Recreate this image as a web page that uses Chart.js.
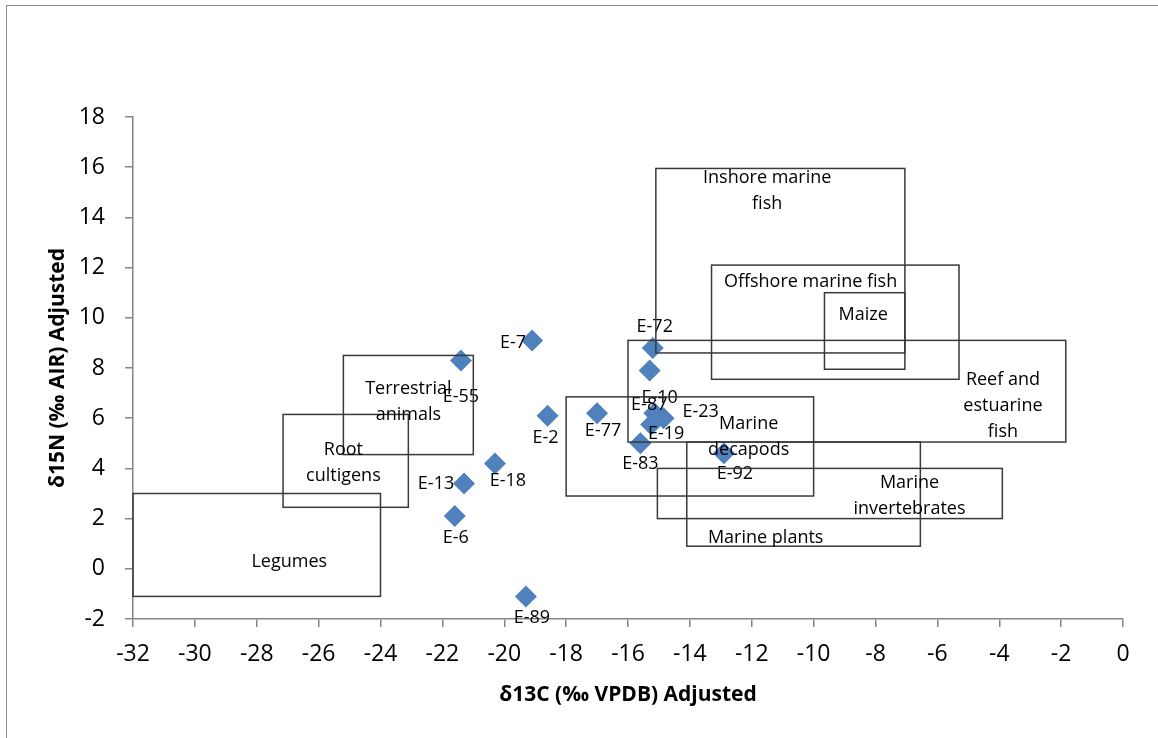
<!DOCTYPE html>
<html>
<head>
<meta charset="utf-8">
<script src="https://cdn.jsdelivr.net/npm/chart.js@4.4.1/dist/chart.umd.min.js"></script>
<style>
  body { margin: 0; background: #fff; }
  #frame { position: absolute; left: 6px; top: 5px; width: 1200px; height: 800px;
           border-left: 1.5px solid #8c8c8c; border-top: 1.5px solid #8c8c8c; }
  #wrap { position: absolute; left: 0; top: 0; width: 1158px; height: 738px; }
</style>
</head>
<body>
<div id="frame"></div>
<div id="wrap"><canvas id="isoChart" width="1158" height="738"></canvas></div>
<script>
// sample values
const sampleNames = ['E-7', 'E-55', 'E-2', 'E-77', 'E-18', 'E-13', 'E-6', 'E-89',
                     'E-72', 'E-10', 'E-87', 'E-23', 'E-19', 'E-83', 'E-92'];
const d13C = [-19.1, -21.4, -18.6, -17.0, -20.3, -21.3, -21.6, -19.3,
              -15.2, -15.3, -15.15, -14.85, -15.25, -15.6, -12.9];
const d15N = [9.1, 8.3, 6.1, 6.2, 4.2, 3.4, 2.1, -1.1,
              8.8, 7.9, 6.2, 6.0, 5.75, 5.0, 4.6];

// reference food groups (ranges)
const groupNames = [['Legumes'], ['Root', 'cultigens'], ['Terrestrial', 'animals'],
                    ['Marine', 'decapods'], ['Reef and', 'estuarine', 'fish'],
                    ['Inshore marine', 'fish'], ['Offshore marine fish'], ['Maize'],
                    ['Marine', 'invertebrates'], ['Marine plants']];
const groupXMin = [-32, -27.15, -25.2, -18.0, -16.0, -15.1, -13.3, -9.65, -15.05, -14.1];
const groupXMax = [-24, -23.1, -21.0, -10.0, -1.85, -7.05, -5.3, -7.05, -3.9, -6.55];
const groupYMin = [-1.1, 2.45, 4.55, 2.9, 5.05, 8.6, 7.55, 7.95, 2.0, 0.9];
const groupYMax = [3.0, 6.15, 8.5, 6.85, 9.1, 15.95, 12.1, 11.0, 4.0, 5.05];
// where the group names sit (data units)
const groupLabelX = [-26.95, -25.2, -23.1, -12.1, -3.88, -11.5, -10.1, -8.4, -6.9, -11.55];
const groupLabelY = [0.28, 4.23, 6.64, 5.26, 6.5, 15.04, 11.45, 10.12, 2.89, 1.24];

// point label offsets from the marker, px
const labelOffsets = [[-19, 2], [0, 36], [-2, 22], [6, 18], [13, 17], [-28, 0], [1, 22], [6, 21],
                      [2, -21], [10, 27], [-5, -8], [37, -6], [15, 9], [0, 21], [11, 21]];

const FONT = '"Open Sans", "Noto Sans", sans-serif';

const points = sampleNames.map(function (n, i) {
    return { x: d13C[i], y: d15N[i] };
});

const overlayPlugin = {
    id: 'overlay',
    afterDatasetsDraw: function (chart) {
        const ctx = chart.ctx;
        const meta = chart.getDatasetMeta(0);
        ctx.save();
        ctx.font = '18px ' + FONT;
        ctx.fillStyle = '#000';
        ctx.textAlign = 'center';
        ctx.textBaseline = 'middle';
        meta.data.forEach(function (pt, i) {
            const off = labelOffsets[i];
            ctx.fillText(sampleNames[i], pt.x + off[0], pt.y + off[1]);
        });
        ctx.restore();
    },
    afterDraw: function (chart) {
        const ctx = chart.ctx;
        const xs = chart.scales.x;
        const ys = chart.scales.y;
        ctx.save();
        ctx.strokeStyle = '#3a3a3a';
        ctx.lineWidth = 1.5;
        for (let i = 0; i < groupNames.length; i++) {
            const x1 = xs.getPixelForValue(groupXMin[i]);
            const x2 = xs.getPixelForValue(groupXMax[i]);
            const y1 = ys.getPixelForValue(groupYMax[i]);
            const y2 = ys.getPixelForValue(groupYMin[i]);
            ctx.strokeRect(x1, y1, x2 - x1, y2 - y1);
        }
        ctx.font = '18px ' + FONT;
        ctx.fillStyle = '#000';
        ctx.textAlign = 'center';
        ctx.textBaseline = 'middle';
        for (let i = 0; i < groupNames.length; i++) {
            const lines = groupNames[i];
            const cx = xs.getPixelForValue(groupLabelX[i]);
            const cy = ys.getPixelForValue(groupLabelY[i]);
            const lh = 26;
            lines.forEach(function (t, k) {
                ctx.fillText(t, cx, cy + (k - (lines.length - 1) / 2) * lh);
            });
        }
        ctx.restore();
    }
};

const ctx = document.getElementById('isoChart').getContext('2d');
const chart = new Chart(ctx, {
    type: 'scatter',
    data: {
        datasets: [{
            data: points,
            pointStyle: 'rectRot',
            pointRadius: 11,
            pointHoverRadius: 11,
            backgroundColor: '#4F81BD',
            borderColor: '#4F81BD',
            borderWidth: 0
        }]
    },
    options: {
        responsive: false,
        animation: false,
        events: [],
        layout: { padding: { top: 117, right: 35, left: 0, bottom: 0 } },
        plugins: {
            legend: { display: false },
            tooltip: { enabled: false }
        },
        scales: {
            x: {
                type: 'linear',
                min: -32,
                max: 0,
                ticks: { stepSize: 2, color: '#000', padding: 14, font: { family: FONT, size: 23 } },
                grid: { drawOnChartArea: false, tickLength: 8, color: '#868686', lineWidth: 1.5 },
                border: { color: '#868686', width: 1.5 },
                title: {
                    display: true,
                    text: 'δ13C (‰ VPDB) Adjusted',
                    color: '#000',
                    font: { family: FONT, size: 21, weight: 'bold' },
                    padding: { top: 0, bottom: 30 }
                },
                afterFit: function (scale) { scale.height = 119; }
            },
            y: {
                type: 'linear',
                min: -2,
                max: 18,
                ticks: { stepSize: 2, color: '#000', padding: 20, font: { family: FONT, size: 23 } },
                grid: { drawOnChartArea: false, tickLength: 8, color: '#868686', lineWidth: 1.5 },
                border: { color: '#868686', width: 1.5 },
                title: {
                    display: true,
                    text: 'δ15N (‰ AIR) Adjusted',
                    color: '#000',
                    font: { family: FONT, size: 21, weight: 'bold' },
                    padding: { top: 45, bottom: 0 }
                },
                afterFit: function (scale) { scale.width = 133; }
            }
        }
    },
    plugins: [overlayPlugin]
});
</script>
</body>
</html>
